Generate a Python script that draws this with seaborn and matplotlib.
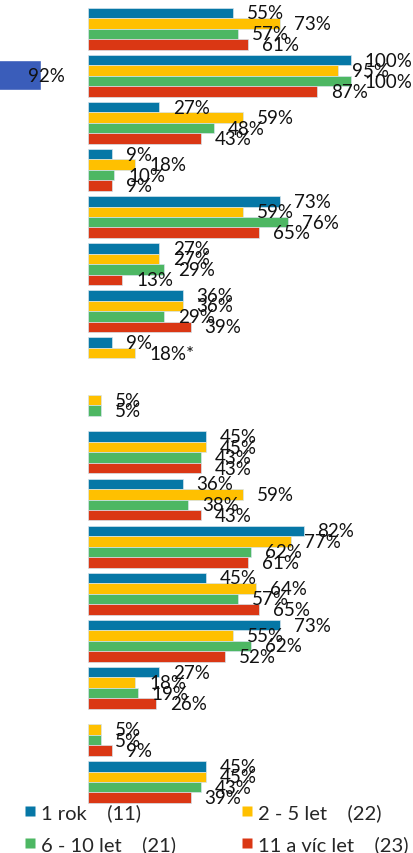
import pandas as pd
import numpy as np
import matplotlib.pyplot as plt
from matplotlib.lines import Line2D
import seaborn as sns

# Series (legend) and category groups
series = ["1 rok", "2 - 5 let", "6 - 10 let", "11 a víc let"]
counts = [11, 22, 21, 23]
colors = ["#0677A6", "#FFC000", "#4DB763", "#DA3714"]
groups = [str(i) for i in range(1, 18)]

nan = np.nan
rok1 = [55, 100, 27, 9, 73, 27, 36, 9, nan, 45, 36, 82, 45, 73, 27, nan, 45]
let2_5 = [73, 95, 59, 18, 59, 27, 36, 18, 5, 45, 59, 77, 64, 55, 18, 5, 45]
let6_10 = [57, 100, 48, 10, 76, 29, 29, nan, 5, 43, 38, 62, 57, 62, 19, 5, 43]
let11 = [61, 87, 43, 9, 65, 13, 39, nan, nan, 43, 43, 61, 65, 52, 26, 9, 39]
notes = {("8", "2 - 5 let"): "*"}

# cropped bar of the neighbouring chart
side_value = 92
side_color = "#3A5DBA"

df = pd.DataFrame({
    "group": groups * 4,
    "series": np.repeat(series, len(groups)),
    "value": rok1 + let2_5 + let6_10 + let11,
})

sns.set_style("white")
plt.rcParams["font.family"] = ["Lato", "DejaVu Sans"]

W, H = 413, 854
fig = plt.figure(figsize=(W / 100, H / 100), dpi=100)

# main chart
ax = fig.add_axes([88 / W, 0, 1 - 88 / W, 1])
sns.barplot(data=df.dropna(), y="group", x="value", hue="series", order=groups,
            hue_order=series, palette=colors, saturation=1, orient="h", width=0.89,
            edgecolor="#d5e4ec", linewidth=0.5, legend=False, ax=ax)

pitch = 47.08
top = 29.7
ax.set_ylim((H - top) / pitch, -top / pitch)
ax.set_xlim(0, (W - 88) / 2.63)
ax.axis("off")

for cont, s in zip(ax.containers, series):
    sub = df[(df["series"] == s) & df["value"].notna()]
    labels = [f"{v:.0f}%" + notes.get((g, s), "") for g, v in zip(sub["group"], sub["value"])]
    ax.bar_label(cont, labels=labels, padding=10, fontsize=13.5, color="#111111")

# left cropped bar
ax2 = fig.add_axes([0, 1 - 91 / H, 88 / W, 30 / H])
ax2.barh([0], [side_value], height=1, color=side_color)
ax2.set_xlim(side_value - 40.7 / 2.63, side_value - 40.7 / 2.63 + 88 / 2.63)
ax2.set_ylim(-0.5, 0.5)
ax2.axis("off")
ax2.bar_label(ax2.containers[0], labels=[f"{side_value}%"], padding=-9.2,
              fontsize=13.5, color="#111111")

# legend
handles = [Line2D([], [], marker="s", linestyle="none", markersize=7.8,
                  markerfacecolor=c, markeredgecolor="none") for c in colors]
labels = [f"{s}    ({n})" for s, n in zip(series, counts)]
order = [0, 2, 1, 3]
fig.legend([handles[i] for i in order], [labels[i] for i in order], ncol=2,
           loc="upper left", bbox_to_anchor=(14 / W, 1 - 794 / H), frameon=False,
           fontsize=14.5, handlelength=0.6, handletextpad=0.25,
           labelspacing=0.72, columnspacing=3.2, borderpad=0)

plt.savefig("out.png", dpi=100)
